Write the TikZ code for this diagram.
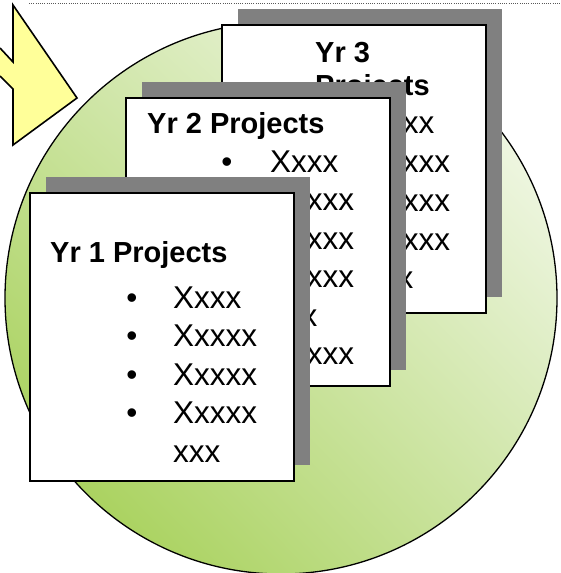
\documentclass[tikz,border=0pt]{standalone}
\usepackage{fontspec}
\setmainfont{Liberation Sans}
\usetikzlibrary{shadows,shadings}
\definecolor{leafgreen}{RGB}{156,203,68}
\definecolor{midgreen}{RGB}{206,229,166}
\definecolor{palegreen}{RGB}{252,253,250}
\definecolor{arrowyellow}{RGB}{255,255,153}
\definecolor{shadowgray}{RGB}{128,128,128}
\tikzset{
  projbox/.style={draw=black, line width=1.6pt, fill=white, anchor=north west,
    inner sep=0pt, minimum width=264pt, minimum height=288pt,
    general shadow={fill=shadowgray, shadow xshift=16.5pt, shadow yshift=16pt}},
  boxtitle/.style={anchor=base west, inner sep=0pt, font=\fontsize{29}{33}\selectfont\bfseries},
  itemtext/.style={anchor=base west, inner sep=0pt, font=\fontsize{31.5}{38}\selectfont},
  itemdot/.style={anchor=base, inner sep=0pt, font=\fontsize{31.5}{38}\selectfont},
}
\begin{document}
\begin{tikzpicture}[x=1pt, y=-1pt]
\useasboundingbox (0,0) rectangle (560,573);
% green disc behind the cards
\shadedraw[lower left=leafgreen, upper right=palegreen, upper left=midgreen,
  lower right=midgreen, line width=1.3pt] (281,298) circle [radius=276];
\draw[black!65, line width=1pt, dash pattern=on 1pt off 1.2pt] (29,3) -- (560,3);
% block arrow, cut at the left edge
\draw[fill=arrowyellow, line width=1.6pt, line join=miter]
  (0,48) -- (13,62) -- (13,5) -- (77,98) -- (13,145) -- (13,89) -- (0,76);

% year 3
\node[projbox] (yr3) at (221,24) {};
\node[boxtitle] (yr3t) at (315,62) {Yr 3};
\node[boxtitle] (yr3p) at (315,95) {Projects};
\foreach \y/\t [count=\i] in {133/Xxxx, 172/Xxxxx, 211/Xxxxx, 250/Xxxxx}
{
    \node[itemdot] (yr3b\i) at (323,\y) {\textbullet};
    \node[itemtext] (yr3i\i) at (366,\y) {\t};
}
\node[itemtext] (yr3w) at (366,288) {xxx};

% year 2
\node[projbox] (yr2) at (125,97) {};
\node[boxtitle] (yr2t) at (147,133) {Yr 2 Projects};
\foreach \y/\t [count=\i] in {172/Xxxx, 210.5/Xxxxx, 249/Xxxxx, 287.5/Xxxxx, 364.5/Xxxxx}
{
    \node[itemdot] (yr2b\i) at (227,\y) {\textbullet};
    \node[itemtext] (yr2i\i) at (270,\y) {\t};
}
\node[itemtext] (yr2w) at (270,326) {xxx};

% year 1
\node[projbox] (yr1) at (29,192) {};
\node[boxtitle] (yr1t) at (50,262) {Yr 1 Projects};
\foreach \y/\t [count=\i] in {308/Xxxx, 346.5/Xxxxx, 385/Xxxxx, 423.5/Xxxxx}
{
    \node[itemdot] (yr1b\i) at (132,\y) {\textbullet};
    \node[itemtext] (yr1i\i) at (173,\y) {\t};
}
\node[itemtext] (yr1w) at (173,462) {xxx};
\end{tikzpicture}
\end{document}
